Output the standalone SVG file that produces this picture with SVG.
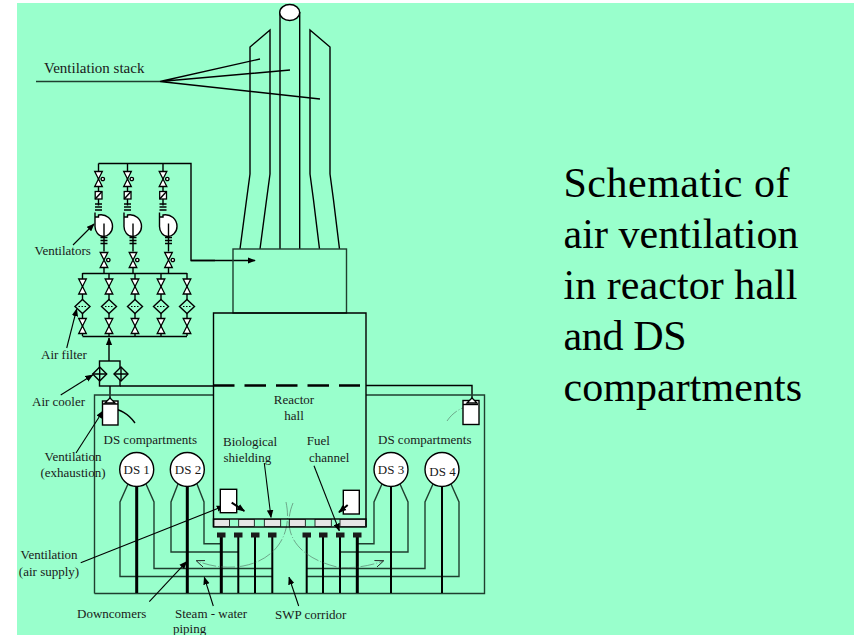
<svg xmlns="http://www.w3.org/2000/svg" width="854" height="635" viewBox="0 0 854 635">
<style>
text{font-family:"Liberation Serif","Times New Roman",serif;fill:#1a1a1a;font-size:13px}
.t{font-size:42px;fill:#000}
.l{fill:none;stroke:#000;stroke-width:1.4}
.g{fill:none;stroke:#1f3f2f;stroke-width:1.4}
.th{fill:none;stroke:#000;stroke-width:3}
.a{fill:none;stroke:#000;stroke-width:1.1;marker-end:url(#ah)}
.b{fill:none;stroke:#000;stroke-width:2;marker-end:url(#ah)}
.c{fill:none;stroke:#4d6b5c;stroke-width:.6;stroke-dasharray:14 2 1 2;marker-end:url(#oh)}
.w{fill:#fff;stroke:#000;stroke-width:1.4}
.v{fill:#fff;stroke:#000;stroke-width:1.3}
.k{fill:#1a1a1a}
.s{fill:#e6e6e6;stroke:#000;stroke-width:.8}
</style>
<defs>
<marker id="ah" viewBox="0 0 10 8" refX="9" refY="4" markerWidth="8" markerHeight="7" markerUnits="userSpaceOnUse" orient="auto"><path d="M0,0L10,4L0,8Z" fill="#000"/></marker>
<marker id="oh" viewBox="0 0 10 8" refX="9" refY="4" markerWidth="9" markerHeight="7" markerUnits="userSpaceOnUse" orient="auto"><path d="M0,0L10,4L0,8" fill="none" stroke="#222" stroke-width="1"/></marker>
<g id="valve"><path class="v" d="M-3.8,-7.5H3.8L-3.8,7.5H3.8Z"/></g>
<g id="valvec"><use href="#valve"/><circle class="v" cx="4.3" cy="0" r="1.7"/></g>
<g id="cross"><path class="l" d="M-3.5,-3H3.5M-3.5,0H3.5M-3.5,3H3.5"/></g>
<g id="up"><path class="l" d="M0,0V42"/><use href="#valvec" y="15.5"/><rect class="v" x="-3.3" y="28" width="6.8" height="7.5"/><path class="l" d="M-3.3,35.5L3.5,28"/><use href="#cross" y="43.5"/></g>
<g id="fan"><path class="w" d="M-3.5,49V53.5H0V51.5C8,50 14,56 14,63C14,69 9,73 5,73C0,73 -3.5,68 -3.5,63Z"/><path class="l" d="M5.5,60V88"/><use href="#cross" x="5.5" y="77"/><use href="#valvec" x="5.5" y="96.5"/><path class="l" d="M5.5,104V110"/></g>
<g id="fil"><path class="l" d="M0,273V336"/><use href="#valve" y="286.5"/><path class="w" style="fill:#9fc" d="M0,299.5L7.5,306.5L0,313.5L-7.5,306.5Z"/><path d="M-4,306.5H4" stroke="#000" stroke-width="1" stroke-dasharray="1.5 1.5"/><use href="#valve" y="326"/></g>
<g id="cool"><path class="w" style="fill:#9fc" d="M0,-7L7,0L0,7L-7,0Z"/><path class="l" d="M-7,0H7M0,-7V7"/></g>
</defs>
<rect width="854" height="635" fill="#fff"/>
<rect x="17" y="3" width="837" height="632" fill="#9fc"/>

<g id="connectors">
<path class="g" d="M36,81.5H160"/>
<path class="l" d="M160,81.5L260,59M160,81.5L290,70M160,81.5L320,99"/>
<path class="l" d="M98.5,163.5H191V260.5H215"/>
<path class="a" d="M191,260.5H255" style="stroke-width:1.4"/>
<path class="l" d="M82.5,273.5H187M82.5,336.5H187"/>
<path class="a" d="M109,361V338" style="stroke-width:1.4"/>
<path class="l" d="M120,386H213.5M366,385.5H472V398M110,386V398"/>
<path class="g" d="M94.5,593.5V395H213.5M366,395H484.5V593.5H94.5"/>
<path class="g" d="M128,484L120,502V576.5H272.5M146,484L154,502V568.5H272.5M178,484L171,502V552H238.5M197,484L204,502V543.7H221.5"/>
<path class="g" d="M382,484L374,502V543.7H357.5M400,484L408,502V552H340M433,484L425,502V568.5H306.5M451,484L459,502V576.5H306.5"/>
<path class="th" d="M136.7,486V593M187.3,486V593M221.3,537V593M357.3,537V593"/>
<path class="l" style="stroke-width:2" d="M391,486V593M442,486V593M238.3,537V593M255,537V593M272.3,537V593M306.7,537V593M323,537V593M340,537V593"/>
<path class="a" d="M73,245L94,224"/>
<path class="a" d="M66.7,348L76.7,309"/>
<path class="a" d="M60.7,395L92.7,375"/>
<path class="a" d="M76,453L103,411"/>
<path class="a" d="M135,423C128,413 120,410 110,407" style="stroke-width:1.4"/>
<path class="c" d="M447,421C453,412 462,407 472,405"/>
<path class="a" d="M80.7,562.7L224,506"/>
<path class="a" d="M149.3,601.7L186.7,561.7"/>
<path class="a" d="M213.3,606L204.3,577.3"/>
<path class="a" d="M298.7,606L289,577.3"/>
<path class="a" d="M264.3,463L271,517.3"/>
<path class="a" d="M314,465.7L339.3,530.7"/>
<path class="c" d="M286,502C293,535 275,560 243,566C225,569 210,566 197,561"/>
<path class="c" d="M293,503C280,535 300,558 337,567C352,569 370,566 383,561"/>
</g>

<g id="stack">
<path class="l" d="M250,174V47L270,30V174M310,174V30L330,47V174"/>
<path class="l" d="M250,174L246.5,200M270,174L266.5,200M310,174L313.5,200M330,174L333.5,200"/>
<path class="l" d="M246.5,200L240,249M266.5,200L260,249M313.5,200L319.5,249M333.5,200L339.5,249"/>
<path class="l" d="M280,12V249M299.7,12V249"/>
<ellipse class="w" cx="289.7" cy="12.5" rx="10" ry="8"/>
<rect x="233" y="249" width="113.5" height="64" class="g"/>
</g>
<g id="reactor-hall">
<path class="l" d="M213.5,527V313H366V527"/>
<path d="M213,385.5H360" stroke="#000" stroke-width="2.5" stroke-dasharray="21.5 10"/>
<rect class="l" x="213.5" y="519" width="152.5" height="8"/>
<rect class="s" x="214" y="519.5" width="15.5" height="7"/>
<rect class="s" x="238.7" y="519.5" width="15.6" height="7"/>
<rect class="s" x="264.3" y="519.5" width="16.4" height="7"/>
<rect class="s" x="289.3" y="519.5" width="16" height="7"/>
<rect class="s" x="315" y="519.5" width="16.3" height="7"/>
<rect class="s" x="340" y="519.5" width="25.5" height="7"/>
<g class="k">
<rect x="217" y="532.5" width="8.5" height="5"/><rect x="234" y="532.5" width="8.5" height="5"/><rect x="251" y="532.5" width="8.5" height="5"/><rect x="268" y="532.5" width="8.5" height="5"/>
<rect x="302.5" y="532.5" width="8.5" height="5"/><rect x="319" y="532.5" width="8.5" height="5"/><rect x="336" y="532.5" width="8.5" height="5"/><rect x="353" y="532.5" width="8.5" height="5"/>
</g>
<rect class="w" x="220.3" y="489.3" width="16.4" height="23.4"/>
<rect class="w" x="343.3" y="490.3" width="16" height="23.7"/>
<path class="b" d="M231.7,502.7L244.3,511"/>
<path class="b" d="M347.7,505L339,512.3"/>
</g>
<g id="ventilators">
<use href="#up" x="98.5" y="163.5"/><use href="#up" x="127.5" y="163.5"/><use href="#up" x="163" y="163.5"/>
<use href="#fan" x="98.5" y="163.5"/><use href="#fan" x="127.5" y="163.5"/><use href="#fan" x="163" y="163.5"/>
</g>
<g id="air-filters">
<use href="#fil" x="82.5"/><use href="#fil" x="109"/><use href="#fil" x="135"/><use href="#fil" x="161"/><use href="#fil" x="187"/>
</g>
<g id="air-cooler">
<rect class="l" x="99.5" y="361" width="20.5" height="25"/>
<use href="#cool" x="99.7" y="374"/><use href="#cool" x="121" y="374"/>
</g>
<g id="exhaust-left">
<rect class="w" x="102.5" y="401" width="15.5" height="24"/>
<path class="v" d="M105,403L110,398L115,403Z"/>
<path class="l" d="M103,404H118"/>
</g>
<g id="exhaust-right">
<rect class="w" x="463" y="400.5" width="16" height="24"/>
<path class="v" d="M467,403L472,398L477,403Z"/>
<path class="l" d="M463,404.5H478"/>
</g>
<g id="ds1"><circle class="w" cx="136.7" cy="469.5" r="17"/><text x="136.7" y="474" text-anchor="middle">DS 1</text></g>
<g id="ds2"><circle class="w" cx="187.3" cy="469.5" r="17"/><text x="188" y="474" text-anchor="middle">DS 2</text></g>
<g id="ds3"><circle class="w" cx="391" cy="469.5" r="17"/><text x="391" y="474" text-anchor="middle">DS 3</text></g>
<g id="ds4"><circle class="w" cx="442" cy="469.5" r="17"/><text x="442.5" y="476" text-anchor="middle">DS 4</text></g>

<g id="labels">
<text x="44" y="73" style="font-size:15px">Ventilation stack</text>
<text x="34.5" y="255">Ventilators</text>
<text x="41" y="359">Air filter</text>
<text x="32" y="405.7">Air cooler</text>
<text x="103.5" y="444">DS compartments</text>
<text x="378" y="444">DS compartments</text>
<text x="73" y="460.7" text-anchor="middle">Ventilation</text>
<text x="73" y="477" text-anchor="middle">(exhaustion)</text>
<text x="49" y="559" text-anchor="middle">Ventilation</text>
<text x="49" y="576" text-anchor="middle">(air supply)</text>
<text x="77" y="617.7">Downcomers</text>
<text x="175" y="617.7">Steam - water</text>
<text x="173" y="633">piping</text>
<text x="275" y="619">SWP corridor</text>
<text x="294" y="404" text-anchor="middle">Reactor</text>
<text x="294" y="420" text-anchor="middle">hall</text>
<text x="223" y="446">Biological</text>
<text x="223.5" y="462">shielding</text>
<text x="306.7" y="445">Fuel</text>
<text x="309" y="462">channel</text>
<text class="t" x="563.5" y="197" textLength="226">Schematic of</text>
<text class="t" x="563.5" y="248" textLength="235">air ventilation</text>
<text class="t" x="563.5" y="298.5" textLength="234">in reactor hall</text>
<text class="t" x="563.5" y="349.5" textLength="123">and DS</text>
<text class="t" x="563.5" y="400.5" textLength="238.5">compartments</text>
</g>
</svg>
